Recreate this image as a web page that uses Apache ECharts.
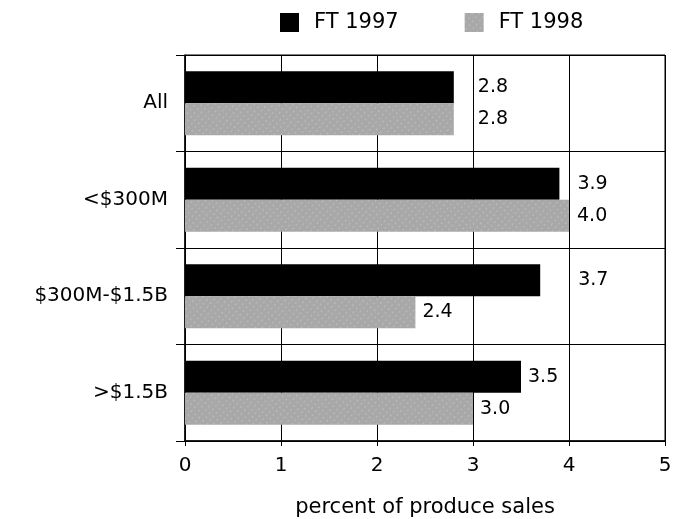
<!DOCTYPE html>
<html><head><meta charset="utf-8">
<script src="https://cdn.jsdelivr.net/npm/echarts@6/dist/echarts.min.js"></script>
<style>html,body{margin:0;padding:0;background:#fff}#c{width:682px;height:519px}</style>
</head><body><div id="c"></div>
<script>
const categories = ['All', '<$300M', '$300M-$1.5B', '>$1.5B'];
const ft1997 = [2.8, 3.9, 3.7, 3.5];
const ft1998 = [2.8, 4.0, 2.4, 3.0];
const seriesNames = ['FT 1997', 'FT 1998'];
const xTicks = [0, 1, 2, 3, 4, 5];
const axisTitle = 'percent of produce sales';

// label distances from bar ends (style only)
const dist1997 = [24, 18, 38, 7];
const dist1998 = [24, 8, 7, 7];

const FONT = 'DejaVu Sans';
const FS = 20;
const chart = echarts.init(document.getElementById('c'), null, {renderer: 'canvas'});

function mk(vals, dists) {
  return vals.map((v, i) => ({
    value: v,
    label: {show: true, position: 'right', distance: dists[i],
      formatter: p => p.value.toFixed(1), color: '#000', fontSize: FS - 1, fontFamily: FONT}
  }));
}

chart.setOption({
  animation: false,
  backgroundColor: '#fff',
  textStyle: {fontFamily: FONT},
  legend: {
    top: 12, left: 280, padding: 0, itemWidth: 19, itemHeight: 19, itemGap: 66,
    icon: 'rect',
    textStyle: {fontSize: 21, color: '#000', fontFamily: FONT, padding: [0, 0, 0, 10]},
    data: seriesNames
  },
  grid: {left: 185, right: 17, top: 55, bottom: 78, containLabel: false, outerBoundsMode: 'none',
    show: true, borderColor: '#000', borderWidth: 1},
  xAxis: {
    type: 'value', min: xTicks[0], max: xTicks[xTicks.length - 1], interval: 1,
    axisLine: {show: true, lineStyle: {color: '#000', width: 1.5}},
    axisTick: {show: true, length: 5, lineStyle: {color: '#000'}},
    axisLabel: {color: '#000', fontSize: FS, margin: 15, fontFamily: FONT},
    splitLine: {show: true, lineStyle: {color: '#000', width: 1}},
    name: axisTitle, nameLocation: 'middle', nameGap: 56,
    nameTextStyle: {color: '#000', fontSize: 21, fontFamily: FONT}
  },
  yAxis: {
    type: 'category', data: categories, inverse: true,
    axisLine: {show: true, lineStyle: {color: '#000', width: 1.5}},
    axisTick: {show: true, length: 9, lineStyle: {color: '#000'}},
    axisLabel: {color: '#000', fontSize: FS, margin: 17, fontFamily: FONT},
    splitLine: {show: true, lineStyle: {color: '#000', width: 1}}
  },
  series: [
    {name: seriesNames[0], type: 'bar', data: mk(ft1997, dist1997), barWidth: 32, barGap: '0%',
     itemStyle: {color: '#000'}},
    {name: seriesNames[1], type: 'bar', data: mk(ft1998, dist1998), barWidth: 32, barGap: '0%',
     itemStyle: {color: '#a8a8a8', decal: {symbol: 'circle', symbolSize: 0.6, color: 'rgba(255,255,255,0.55)', dashArrayX: [3, 2], dashArrayY: [2, 3], rotation: 0.7}}}
  ]
});
</script></body></html>
